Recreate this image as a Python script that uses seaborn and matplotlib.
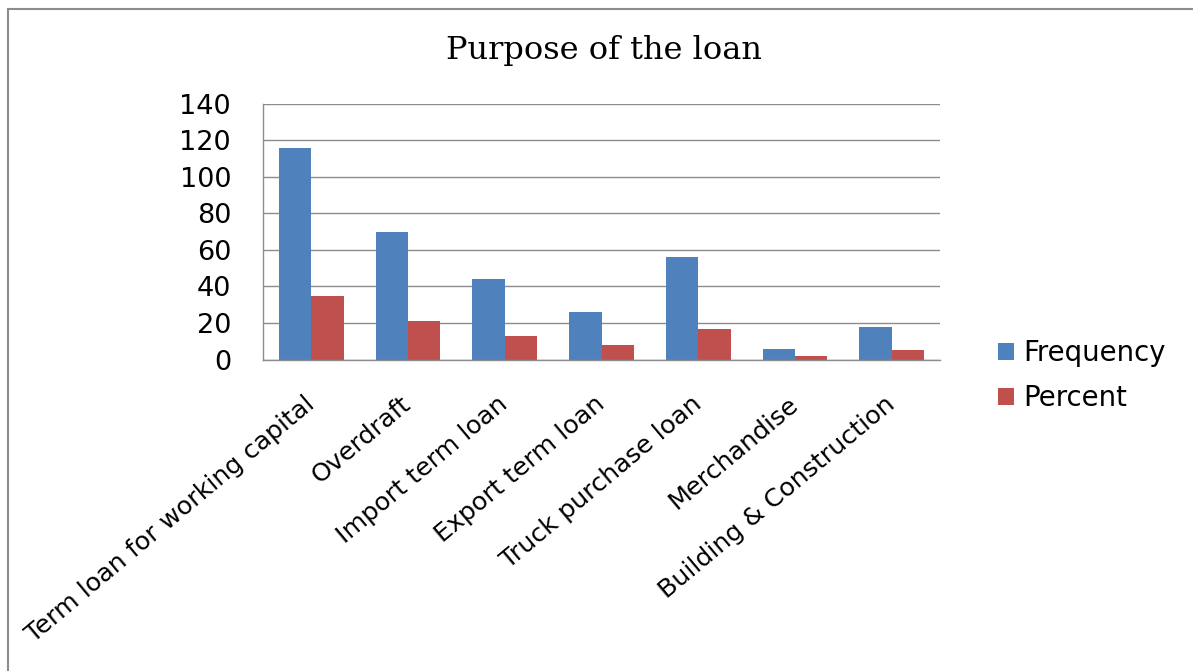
import matplotlib
matplotlib.use("Agg")
import matplotlib.pyplot as plt
import seaborn as sns
import pandas as pd
from matplotlib.patches import Rectangle

categories = ["Term loan for working capital", "Overdraft", "Import term loan",
              "Export term loan", "Truck purchase loan", "Merchandise",
              "Building & Construction"]
frequency = [116, 70, 44, 26, 56, 6, 18]
percent = [34.5, 20.8, 13.1, 7.7, 16.7, 1.8, 5.4]
series_names = ["Frequency", "Percent"]
colors = ["#4F81BD", "#C0504D"]

df = pd.DataFrame({
    "Purpose": categories * 2,
    "Value": frequency + percent,
    "Series": [series_names[0]] * len(categories) + [series_names[1]] * len(categories),
})

sns.set_theme(style="white")
plt.rcParams['font.family'] = ['DejaVu Sans']
plt.rcParams['text.color'] = 'black'
plt.rcParams['xtick.labelcolor'] = 'black'
plt.rcParams['ytick.labelcolor'] = 'black'

W, H = 1193, 671
fig = plt.figure(figsize=(W / 100, H / 100), dpi=100)
ax = fig.add_axes([263 / W, 1 - 359.5 / H, (940 - 263) / W, (359.5 - 103.7) / H])

sns.barplot(data=df, x="Purpose", y="Value", hue="Series", palette=colors,
            width=0.67, gap=0, ax=ax, saturation=1, edgecolor="none")

ax.set_ylim(0, 140)
ax.set_yticks(range(0, 141, 20))
ax.set_xlim(-0.5, len(categories) - 0.5)
ax.yaxis.grid(True, color="#8c8c8c", linewidth=1)
ax.set_axisbelow(True)
ax.set_xlabel("")
ax.set_ylabel("")
for s in ["top", "right"]:
    ax.spines[s].set_visible(False)
for s in ["left", "bottom"]:
    ax.spines[s].set_color("#8c8c8c")
    ax.spines[s].set_linewidth(1)

ax.tick_params(axis="y", labelsize=19.5, length=0, pad=23, labelcolor="black")
ax.set_xticks(range(len(categories)))
ax.set_xticklabels(categories, rotation=40, ha="right", va="center",
                   rotation_mode="anchor", fontsize=18.3, color="black")
ax.tick_params(axis="x", which="major", bottom=False, pad=24)
# ticks at category boundaries
ax.set_xticks([i - 0.5 for i in range(len(categories) + 1)], minor=True)
ax.tick_params(axis="x", which="minor", length=6, color="#8c8c8c", width=1, direction="out")

fig.text(604 / W, 1 - 50 / H, "Purpose of the loan", fontsize=23, family="DejaVu Serif",
         ha="center", va="center", color="black")

leg = ax.legend(loc="upper left", bbox_to_anchor=(1.049, 0.176), frameon=False,
                fontsize=19.8, handlelength=0.6, handleheight=0.6, labelspacing=0.62,
                handletextpad=0.32)

fig.patches.append(Rectangle((8 / W, -0.05), 1.2, 1 - 9 / H + 0.05, transform=fig.transFigure,
                             fill=False, edgecolor="#8c8c8c", linewidth=1.5))

fig.savefig("out.png", dpi=100)
